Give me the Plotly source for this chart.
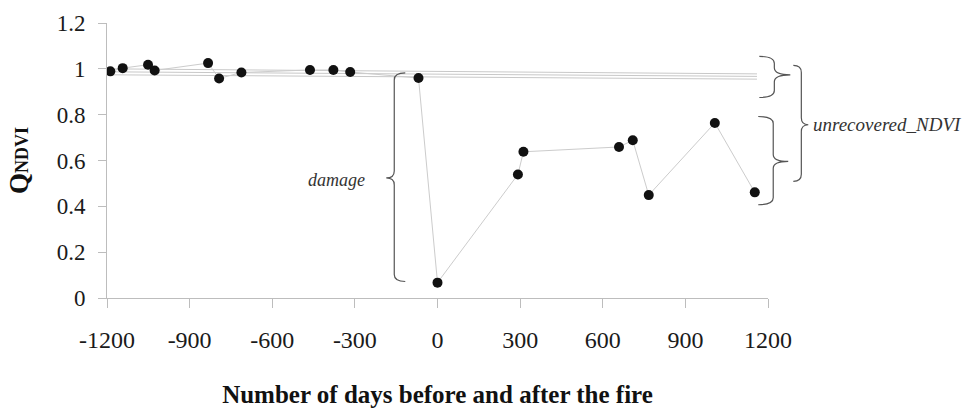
import plotly.graph_objects as go

# ---- data ----
pre_days = [-1188, -1143, -1051, -1027, -833, -793, -712, -463, -378, -317, -69]
pre_q = [0.989, 1.003, 1.018, 0.993, 1.025, 0.958, 0.984, 0.995, 0.995, 0.986, 0.960]
post_days = [0, 292, 312, 659, 709, 767, 1007, 1152]
post_q = [0.067, 0.539, 0.638, 0.659, 0.688, 0.449, 0.764, 0.461]

# faint reference lines (start / end levels)
ref_x = [-1200, 1160]
ref_start = [1.000, 0.987, 0.974]
ref_end = [0.978, 0.967, 0.955]

x_ticks = [-1200, -900, -600, -300, 0, 300, 600, 900, 1200]
x_ticktext = ["-1200", "-900", "-600", "-300", "0", "300", "600", "900", "1200"]
y_ticks = [0, 0.2, 0.4, 0.6, 0.8, 1, 1.2]
y_ticktext = ["0", "0.2", "0.4", "0.6", "0.8", "1", "1.2"]

XMIN, XMAX = -1200, 1200
YMIN, YMAX = 0, 1.2
W, H = 967, 408
ML, MR, MT, MB = 107, 199, 23, 110
PW = W - ML - MR
PH = H - MT - MB

SERIF = "Liberation Serif, Times New Roman, serif"
TXT = "#1a1a1a"


def xp(d):
    return (d - XMIN) / (XMAX - XMIN)


def yp(v):
    return (v - YMIN) / (YMAX - YMIN)


def brace(x_day, y_bot, y_top, y_tip, s, w_end, w_tip, r=7):
    """curly brace path in paper coords; s=-1 tip to the left, +1 tip to the right"""
    x = xp(x_day)
    y0, y1, ym = yp(y_bot), yp(y_top), yp(y_tip)
    xe = x - s * w_end / PW
    xt = x + s * w_tip / PW
    ry = r / PH
    return (f"M {xe},{y1} Q {x},{y1} {x},{y1 - ry} L {x},{ym + ry} "
            f"Q {x},{ym} {xt},{ym} Q {x},{ym} {x},{ym - ry} "
            f"L {x},{y0 + ry} Q {x},{y0} {xe},{y0}")


fig = go.Figure()

for a, b in zip(ref_start, ref_end):
    fig.add_trace(go.Scatter(x=ref_x, y=[a, b], mode="lines",
                             line=dict(color="#c8c8c8", width=1),
                             hoverinfo="skip", showlegend=False))

fig.add_trace(go.Scatter(
    x=pre_days + post_days, y=pre_q + post_q, mode="lines+markers",
    line=dict(color="#cccccc", width=1),
    marker=dict(color="#111111", size=10),
    showlegend=False))

brace_color = "#555555"
shapes = [
    # damage
    dict(path=brace(-157, 0.072, 0.982, 0.524, -1, 11, 8)),
    # pre-fire band
    dict(path=brace(1223, 0.875, 1.054, 0.974, 1, 15, 16)),
    # post-fire band
    dict(path=brace(1219, 0.407, 0.792, 0.596, 1, 15, 15)),
    # unrecovered
    dict(path=brace(1321, 0.509, 1.015, 0.756, 1, 8, 7)),
]
for sh in shapes:
    sh.update(type="path", xref="paper", yref="paper",
              line=dict(color=brace_color, width=1.2))
fig.update_layout(shapes=shapes)

fig.add_annotation(x=xp(-255), y=yp(0.516), xref="paper", yref="paper",
                   text="<i>damage</i>", showarrow=False, xanchor="right",
                   font=dict(family=SERIF, size=18, color="#333333"))
fig.add_annotation(x=xp(1355), y=yp(0.756), xref="paper", yref="paper",
                   text="<i>unrecovered_NDVI</i>", showarrow=False, xanchor="left",
                   font=dict(family=SERIF, size=19, color="#333333"))

fig.update_xaxes(range=[XMIN, XMAX], tickvals=x_ticks, ticktext=x_ticktext,
                 ticks="outside", ticklen=9, tickcolor="#bdbdbd", showline=True,
                 linecolor="#bdbdbd", showgrid=False, zeroline=False,
                 ticklabelstandoff=11,
                 tickfont=dict(family=SERIF, size=24, color=TXT),
                 title=dict(text="<b>Number of days before and after the fire</b>",
                            font=dict(family=SERIF, size=25, color="#111111"),
                            standoff=38))
fig.update_yaxes(range=[YMIN, YMAX], tickvals=y_ticks, ticktext=y_ticktext,
                 ticks="outside", ticklen=8, tickcolor="#bdbdbd", showline=True,
                 linecolor="#bdbdbd", showgrid=False, zeroline=False,
                 ticklabelstandoff=8,
                 tickfont=dict(family=SERIF, size=23, color=TXT),
                 title=dict(text="<b>Q<span style='font-size:18px'>NDVI</span></b>",
                            font=dict(family=SERIF, size=27, color="#111111"),
                            standoff=20))

fig.update_layout(width=W, height=H,
                  margin=dict(l=ML, r=MR, t=MT, b=MB, autoexpand=False),
                  plot_bgcolor="white", paper_bgcolor="white")

fig.write_html("out.html",
               config={"displayModeBar": False},
               post_script="document.body.style.margin='0';"
                           "document.body.style.overflow='hidden';")
